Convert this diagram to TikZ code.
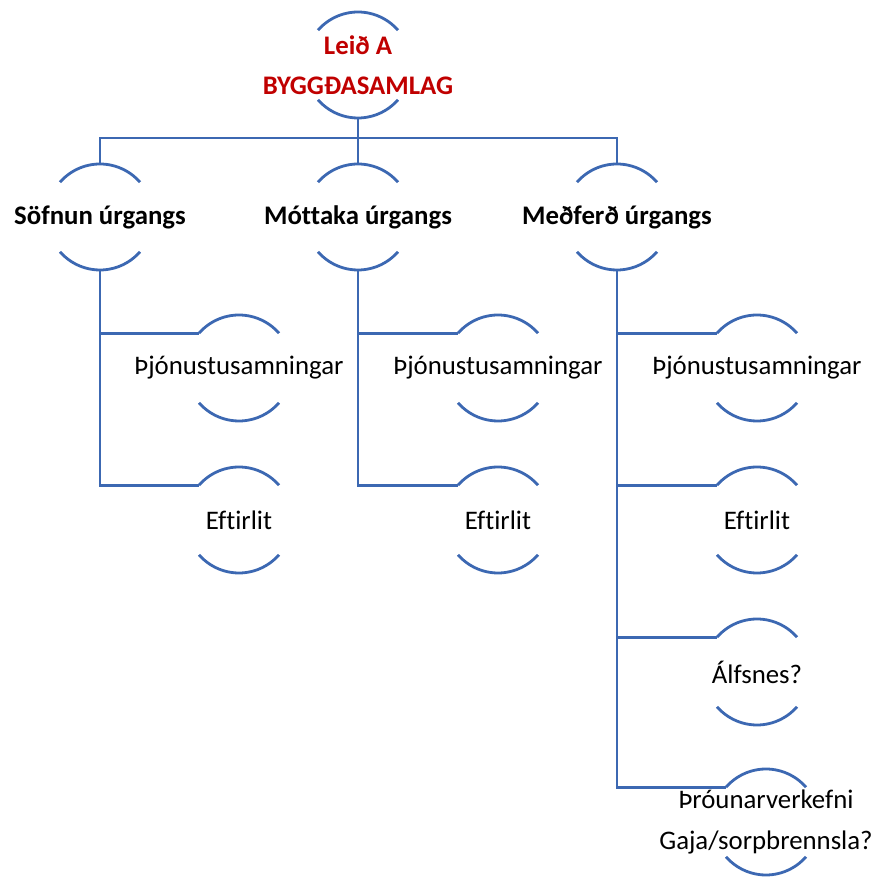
\documentclass[tikz,border=0pt]{standalone}
\usepackage{fontspec}
\setmainfont{Carlito}[Ligatures=NoCommon]
\usepackage{tikz}
\usetikzlibrary{calc,positioning}
\definecolor{linkblue}{RGB}{60,104,178}
\definecolor{titlered}{RGB}{192,0,0}
\tikzset{
  basetxt/.style={inner sep=0pt,align=center,font=\fontsize{26.8}{41}\selectfont},
  rootnode/.style={basetxt,text=titlered,font=\fontsize{26.8}{40}\selectfont\bfseries},
  mainnode/.style={basetxt,font=\fontsize{26.8}{40}\selectfont\bfseries},
  subnode/.style={basetxt},
  arcline/.style={draw=linkblue,line width=2.8pt},
  link/.style={draw=linkblue,line width=2.8pt}
}

\begin{document}
\begin{tikzpicture}[x=1pt,y=1pt]
  \useasboundingbox (0,0) rectangle (878,878);

  %% Root
  \node[rootnode] (root) at (358,813) {Leið A\\BYGGÐASAMLAG};

  %% First level
  \node[mainnode] (soef) at (100,661) {Söfnun úrgangs};
  \node[mainnode] (mott) at (358,661) {Móttaka úrgangs};
  \node[mainnode] (medf) at (617,661) {Meðferð úrgangs};

  %% Second level
  \node[subnode] (pj1) at (239,510) {Þjónustusamningar};
  \node[subnode] (ef1) at (239,358) {Eftirlit};
  \node[subnode] (pj2) at (498,510) {Þjónustusamningar};
  \node[subnode] (ef2) at (498,358) {Eftirlit};
  \node[subnode] (pj3) at (757,510) {Þjónustusamningar};
  \node[subnode] (ef3) at (757,358) {Eftirlit};
  \node[subnode] (alf) at (757,206) {Álfsnes?};
  \node[subnode] (throun) at (766,56) {Þróunarverkefni\\Gaja/sorpbrennsla?};

  %% Arcs round every node
  \foreach \n in {root,soef,mott,medf,pj1,ef1,pj2,ef2,pj3,ef3,alf,throun} {
    \draw[arcline] ([shift={(139:53)}]\n.center) arc[start angle=139,end angle=41,radius=53];
    \draw[arcline] ([shift={(221:53)}]\n.center) arc[start angle=221,end angle=319,radius=53];
  }

  %% Root to first level
  \coordinate (bus) at ($(root.center)+(0,-73)$);
  \draw[link] ([yshift=-53]root.center) -- (bus);
  \draw[link] ([yshift=54]soef.center) -- (soef.center |- bus) -- (medf.center |- bus) -- ([yshift=54]medf.center);
  \draw[link] (bus) -- ([yshift=54]mott.center);

  %% First level to second level
  \draw[link] ([yshift=-54]soef.center) |- ([shift={(139:53)}]pj1.center);
  \draw[link] ([yshift=-54]soef.center) |- ([shift={(139:53)}]ef1.center);
  \draw[link] ([yshift=-54]mott.center) |- ([shift={(139:53)}]pj2.center);
  \draw[link] ([yshift=-54]mott.center) |- ([shift={(139:53)}]ef2.center);
  \draw[link] ([yshift=-54]medf.center) |- ([shift={(139:53)}]pj3.center);
  \draw[link] ([yshift=-54]medf.center) |- ([shift={(139:53)}]ef3.center);
  \draw[link] ([yshift=-54]medf.center) |- ([shift={(139:53)}]alf.center);
  \draw[link] ([yshift=-54]medf.center) |- ([shift={(139:53)}]throun.center);
\end{tikzpicture}
\end{document}
